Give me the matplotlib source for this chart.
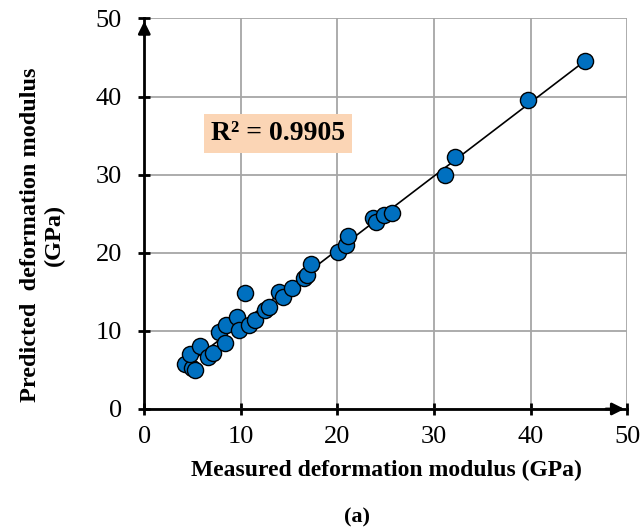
import matplotlib
matplotlib.use("Agg")
import matplotlib.pyplot as plt
import numpy as np

# measured vs predicted deformation modulus (GPa)
measured = np.array([4.2, 4.9, 5.2, 4.7, 5.8, 6.6, 7.1, 7.7, 8.4, 8.5, 9.6,
                     9.8, 10.4, 10.8, 11.5, 12.5, 12.9, 13.9, 14.4, 15.3,
                     16.5, 16.8, 17.3, 20.1, 20.9, 21.1, 23.7, 24.0, 24.8,
                     25.6, 31.1, 32.2, 39.7, 45.6])
predicted = np.array([5.8, 5.2, 5.0, 7.1, 8.0, 6.7, 7.2, 9.9, 8.4, 10.8, 11.8,
                      10.1, 14.8, 10.8, 11.4, 12.7, 13.1, 15.0, 14.4, 15.5,
                      16.8, 17.1, 18.6, 20.1, 21.0, 22.1, 24.4, 24.0, 24.9,
                      25.1, 30.0, 32.2, 39.6, 44.5])
r2_text = "R² = 0.9905"
ticks = [0, 10, 20, 30, 40, 50]

plt.rcParams["font.family"] = ["Liberation Serif", "DejaVu Serif"]

fig = plt.figure(figsize=(6.43, 5.31), dpi=100)
ax = fig.add_axes([0.2244, 0.2298, 0.751, 0.7354])

# linear trendline through the data
a, b = np.polyfit(measured, predicted, 1)
xs = np.array([measured.min(), measured.max()])
ax.plot(xs, a * xs + b, color="black", lw=1.2, zorder=2)
ax.scatter(measured, predicted, s=135, c="#0070C0", edgecolors="black",
           linewidths=1.0, zorder=3)

ax.set_xlim(0, 50)
ax.set_ylim(0, 50)
ax.set_xticks(ticks)
ax.set_yticks(ticks)
ax.grid(True, color="#a6a6a6", lw=1.3)
ax.set_axisbelow(True)
for side in ("top", "right"):
    ax.spines[side].set_visible(False)
for side in ("left", "bottom"):
    ax.spines[side].set_linewidth(2)
ax.tick_params(direction="inout", length=8, width=2, labelsize=19)
ax.tick_params(axis="x", pad=8)
ax.tick_params(axis="y", pad=12)

# arrow heads on the axes
for tip, tail in (((1.0, 0), (0.95, 0)), ((0, 1.0), (0, 0.95))):
    ax.annotate("", xy=tip, xytext=tail, xycoords="axes fraction",
                arrowprops=dict(arrowstyle="-|>", color="black", lw=2,
                                mutation_scale=18), annotation_clip=False)

ax.text(13.84, 35.3, r2_text, fontsize=20, fontweight="bold", ha="center",
        va="center", bbox=dict(boxstyle="square,pad=0.25", fc="#FBD5B5",
                               ec="none"))

ax.set_xlabel("Measured deformation modulus (GPa)", fontsize=17,
              fontweight="bold")
ax.xaxis.set_label_coords(0.5015, -0.1306)
ax.set_ylabel("Predicted  deformation modulus\n(GPa)", fontsize=17.5,
              fontweight="bold", linespacing=1.2)
ax.yaxis.set_label_coords(-0.164, 0.4456)
fig.text(357 / 643, 1 - 517 / 531, "(a)", fontsize=16, fontweight="bold",
         ha="center", va="center")

fig.savefig("out.png", dpi=100)
